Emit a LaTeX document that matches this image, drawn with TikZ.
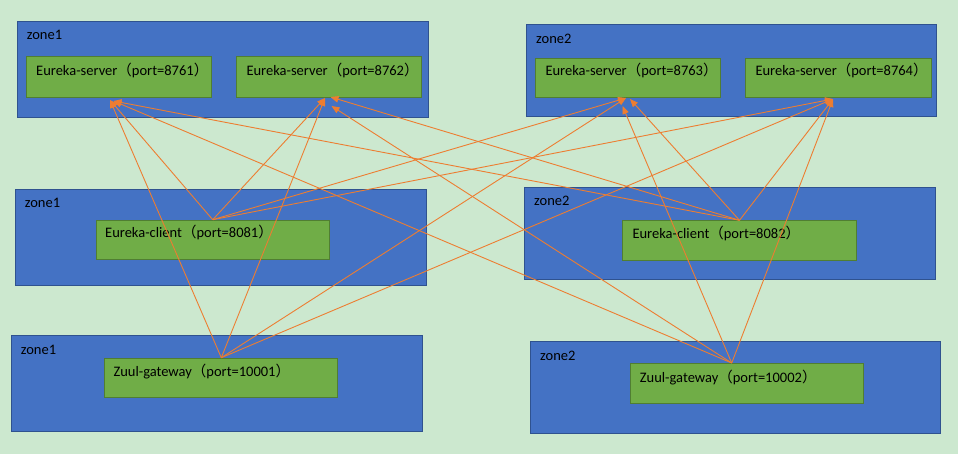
\documentclass[tikz,border=0pt]{standalone}
\usepackage{fontspec}
\setmainfont{Carlito}
\newfontfamily\cjk{Noto Sans CJK SC}
\usetikzlibrary{arrows.meta}
\definecolor{bg}{RGB}{204,232,207}
\definecolor{zonefill}{RGB}{68,114,196}
\definecolor{zoneline}{RGB}{47,82,143}
\definecolor{boxfill}{RGB}{112,173,71}
\definecolor{boxline}{RGB}{80,126,50}
\definecolor{arr}{RGB}{237,125,49}
\newcommand{\lp}{{\cjk （}}
\newcommand{\rp}{{\cjk ）}}
\begin{document}
\begin{tikzpicture}[x=1pt,y=-1pt,
 zone/.style={draw=zoneline, fill=zonefill, line width=1pt, anchor=north west, inner sep=0pt},
 svc/.style={draw=boxline, fill=boxfill, line width=1pt, anchor=north west, inner sep=0pt},
 txt/.style={anchor=base west, inner sep=0pt, font=\fontsize{14.5}{17}\selectfont, text=black},
 link/.style={draw=arr, line width=0.9pt, -{Triangle[length=8pt,width=6.5pt]}}
]
\fill[bg] (0,0) rectangle (958,454);
\useasboundingbox (0,0) rectangle (958,454);

% zones
\node[zone, minimum width=410.4pt, minimum height=96pt] (zt1) at (17.3,21.3) {};
\node[zone, minimum width=410pt, minimum height=92pt] (zt2) at (526.3,24.3) {};
\node[zone, minimum width=410.4pt, minimum height=96pt] (zm1) at (15.3,189.3) {};
\node[zone, minimum width=410.4pt, minimum height=92pt] (zm2) at (524.3,187.3) {};
\node[zone, minimum width=410.4pt, minimum height=96pt] (zb1) at (11.3,335.3) {};
\node[zone, minimum width=410pt, minimum height=92pt] (zb2) at (530.3,341.3) {};

\node[txt] (lzt1) at (26.7,39.3) {zone1};
\node[txt] (lzt2) at (536,43.3) {zone2};
\node[txt] (lzm1) at (24.7,208) {zone1};
\node[txt] (lzm2) at (534,206) {zone2};
\node[txt] (lzb1) at (20.7,354) {zone1};
\node[txt] (lzb2) at (540,360) {zone2};

% services
\node[svc, minimum width=185pt, minimum height=40.4pt] (s8761) at (26.3,56.3) {};
\node[svc, minimum width=185pt, minimum height=40.4pt] (s8762) at (236.3,56.3) {};
\node[svc, minimum width=185pt, minimum height=39.6pt] (s8763) at (535.3,57.7) {};
\node[svc, minimum width=185.4pt, minimum height=39.6pt] (s8764) at (745.3,57.7) {};
\node[svc, minimum width=233pt, minimum height=39.6pt] (c8081) at (95.7,219.7) {};
\node[svc, minimum width=233.4pt, minimum height=40pt] (c8082) at (622.3,220.3) {};
\node[svc, minimum width=233pt, minimum height=39.3pt] (g10001) at (104.3,357.7) {};
\node[svc, minimum width=233pt, minimum height=39.7pt] (g10002) at (630.3,363.3) {};

\node[txt] (l8761) at (36,75.3) {Eureka-server\lp port=8761\rp};
\node[txt] (l8762) at (246.3,75.3) {Eureka-server\lp port=8762\rp};
\node[txt] (l8763) at (545.3,76) {Eureka-server\lp port=8763\rp};
\node[txt] (l8764) at (755.3,76) {Eureka-server\lp port=8764\rp};
\node[txt] (l8081) at (105,238) {Eureka-client\lp port=8081\rp};
\node[txt] (l8082) at (632.3,238.7) {Eureka-client\lp port=8082\rp};
\node[txt] (l10001) at (113.3,376.7) {Zuul-gateway\lp port=10001\rp};
\node[txt] (l10002) at (639.7,382) {Zuul-gateway\lp port=10002\rp};

% connector end points
\coordinate (o1) at (c8081.north);
\coordinate (o2) at (c8082.north);
\coordinate (o3) at (g10001.north);
\coordinate (o4) at (731.7,363);
\coordinate (t61a) at (110,100);
\coordinate (t61b) at (113.5,101);
\coordinate (t62a) at (325,98);
\coordinate (t62b) at (330.5,97);
\coordinate (t62c) at (331.5,106);
\coordinate (t63a) at (626,98);
\coordinate (t63b) at (630,99);
\coordinate (t63c) at (622.5,106);
\coordinate (t64) at (833,99);

% connectors
\draw[link] (o1) -- (t61a);
\draw[link] (o3) -- (t61a);
\draw[link] (o2) -- (t61b);
\draw[link] (o4) -- (t61b);
\draw[link] (o1) -- (t62a);
\draw[link] (o3) -- (t62a);
\draw[link] (o2) -- (t62b);
\draw[link] (o4) -- (t62c);
\draw[link] (o1) -- (t63a);
\draw[link] (o3) -- (t63a);
\draw[link] (o2) -- (t63b);
\draw[link] (o4) -- (t63c);
\draw[link] (o1) -- (t64);
\draw[link] (o3) -- (t64);
\draw[link] (o2) -- (t64);
\draw[link] (o4) -- (t64);
\end{tikzpicture}
\end{document}
